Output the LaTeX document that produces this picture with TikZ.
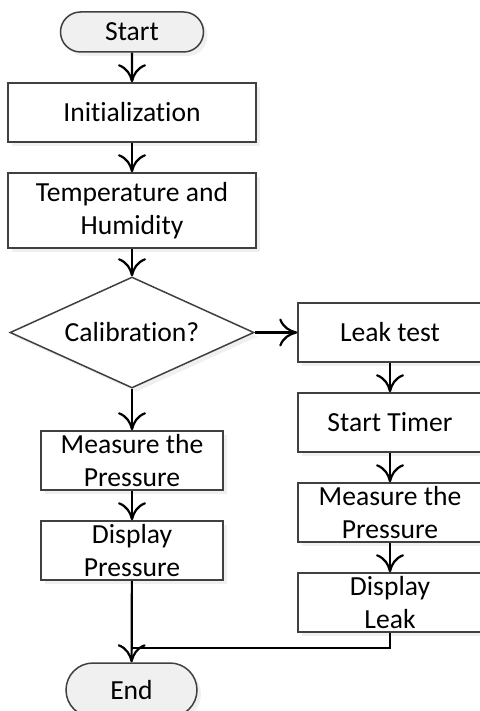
\documentclass[tikz,border=0pt]{standalone}
\usepackage{fontspec}
\setmainfont{Carlito}[Ligatures={NoCommon}]
\definecolor{fcgray}{RGB}{64,64,64}
\definecolor{fcfill}{RGB}{240,240,240}
\usetikzlibrary{arrows.meta,shapes.geometric,shapes.misc,shadows}

\begin{document}
\begin{tikzpicture}[x=0.5pt, y=-0.5pt,
  box/.style={draw=fcgray, line width=0.75pt, fill=white, align=center, inner sep=0pt,
    font=\fontsize{13.8}{16.5}\selectfont,
    drop shadow={shadow xshift=2pt, shadow yshift=-2pt, opacity=0.12}},
  term/.style={box, rounded rectangle, fill=fcfill},
  flow/.style={-{To[length=9pt, width=14pt]}, line width=1.1pt}]
  \useasboundingbox (0,0) rectangle (480,711);

  % main column
  \node[term, minimum width=71.5pt, minimum height=20pt]  (start) at (132,32) {Start};
  \node[box, minimum width=124pt, minimum height=29.5pt]  (init)  at (132,112.5) {Initialization};
  \node[box, minimum width=124pt, minimum height=37.5pt]  (temp)  at (132,210.5) {Temperature and\\Humidity};
  \node[box, diamond, aspect=2.2, minimum width=122pt, minimum height=55.5pt] (calib) at (132,332.5) {Calibration?};
  \node[box, minimum width=91pt, minimum height=29.5pt]   (lmeas) at (132,460.5) {Measure the\\Pressure};
  \node[box, minimum width=91pt, minimum height=29.5pt]   (dpres) at (132,550.5) {Display\\Pressure};
  \node[term, minimum width=65.5pt, minimum height=27pt]  (end)   at (131.5,690) {End};

  % leak branch
  \node[box, minimum width=92pt, minimum height=29.5pt]   (leak)  at (390,332.5) {Leak test};
  \node[box, minimum width=92pt, minimum height=29.5pt]   (timer) at (390,422.5) {Start Timer};
  \node[box, minimum width=92pt, minimum height=29.5pt]   (rmeas) at (390,512.5) {Measure the\\Pressure};
  \node[box, minimum width=92pt, minimum height=29.5pt]   (dleak) at (390,602.5) {Display\\Leak};

  \coordinate (merge) at (132,648);

  \draw[flow] (start) -- (init);
  \draw[flow] (init) -- (temp);
  \draw[flow] (temp) -- (calib);
  \draw[flow] (calib) -- (lmeas);
  \draw[flow] (lmeas) -- (dpres);
  \draw[flow] (dpres) -- (end);
  \draw[flow] (calib) -- (leak);
  \draw[flow] (leak) -- (timer);
  \draw[flow] (timer) -- (rmeas);
  \draw[flow] (rmeas) -- (dleak);
  \draw[line width=1.1pt] (dleak.south) |- (merge);
\end{tikzpicture}
\end{document}
